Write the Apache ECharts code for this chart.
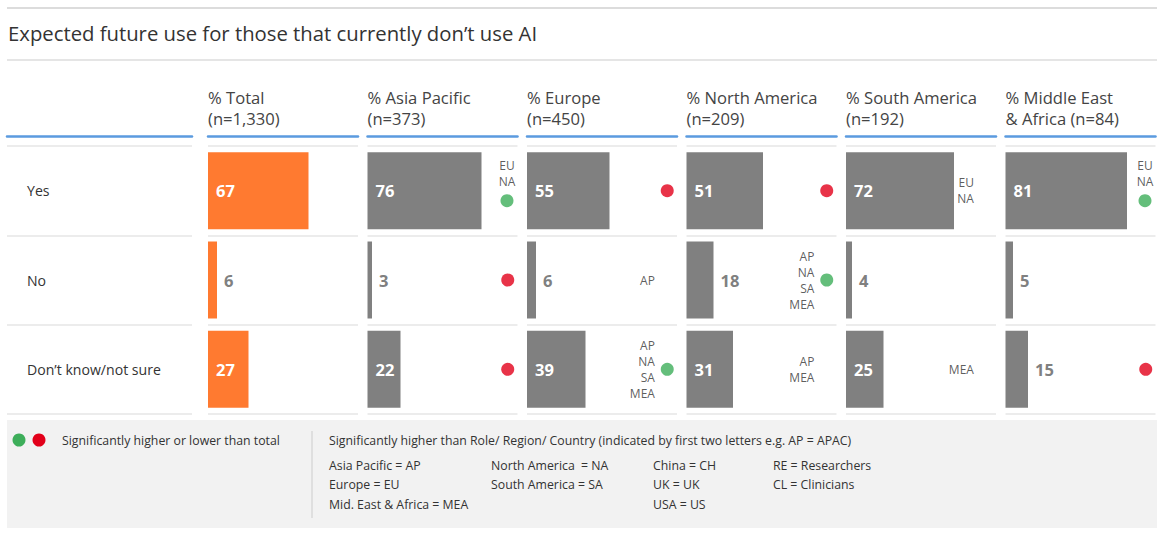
<!DOCTYPE html>
<html>
<head>
<meta charset="utf-8">
<script src="https://cdn.jsdelivr.net/npm/echarts@6/dist/echarts.min.js"></script>
<style>
html,body{margin:0;padding:0;background:#fff;}
#chart{width:1162px;height:534px;}
</style>
</head>
<body>
<div id="chart"></div>
<script>
// ---- data ----
const titleText = 'Expected future use for those that currently don\u2019t use AI';
const rowLabels = ['Yes', 'No', 'Don\u2019t know/not sure'];
const columnHeaders = ['% Total\n(n=1,330)', '% Asia Pacific\n(n=373)', '% Europe\n(n=450)', '% North America\n(n=209)', '% South America\n(n=192)', '% Middle East\n& Africa (n=84)'];
const totalValues = [67, 6, 27];
const asiaPacificValues = [76, 3, 22];
const europeValues = [55, 6, 39];
const northAmericaValues = [51, 18, 31];
const southAmericaValues = [72, 4, 25];
const middleEastAfricaValues = [81, 5, 15];
// significance vs total: 'higher' | 'lower' | ''
const totalSig = ['', '', ''];
const asiaPacificSig = ['higher', 'lower', 'lower'];
const europeSig = ['lower', '', 'higher'];
const northAmericaSig = ['lower', 'higher', ''];
const southAmericaSig = ['', '', ''];
const middleEastAfricaSig = ['higher', '', 'lower'];
// significantly higher than region codes
const totalCodes = [[], [], []];
const asiaPacificCodes = [['EU', 'NA'], [], []];
const europeCodes = [[], ['AP'], ['AP', 'NA', 'SA', 'MEA']];
const northAmericaCodes = [[], ['AP', 'NA', 'SA', 'MEA'], ['AP', 'MEA']];
const southAmericaCodes = [['EU', 'NA'], [], ['MEA']];
const middleEastAfricaCodes = [['EU', 'NA'], [], []];
// legend texts
const legendSigText = 'Significantly higher or lower than total';
const legendCodesHeader = 'Significantly higher than Role/ Region/ Country (indicated by first two letters e.g. AP = APAC)';
const legendCodeColumns = [
  ['Asia Pacific = AP', 'Europe = EU', 'Mid. East & Africa = MEA'],
  ['North America  = NA', 'South America = SA'],
  ['China = CH', 'UK = UK', 'USA = US'],
  ['RE = Researchers', 'CL = Clinicians']
];

// ---- layout / style ----
const FONT = '"Open Sans", "Noto Sans", sans-serif';
const ORANGE = '#ff7a30';
const GREY = '#808080';
const GREEN = '#3dae5a';
const RED = '#e2001a';
const BLUE = '#5b9bdf';
const SEP = '#e6e6e6';
const colLefts = [208, 367.5, 527, 686.5, 846, 1005.5];
const colWidth = 150;
const gridTop = 146, gridHeight = 268;
const DOT_X = 93.5, CODE_X = 85.3;

const valueCols = [totalValues, asiaPacificValues, europeValues, northAmericaValues, southAmericaValues, middleEastAfricaValues];
const sigCols = [totalSig, asiaPacificSig, europeSig, northAmericaSig, southAmericaSig, middleEastAfricaSig];
const codeCols = [totalCodes, asiaPacificCodes, europeCodes, northAmericaCodes, southAmericaCodes, middleEastAfricaCodes];

const grid = [{left: 7, width: 185, top: gridTop, height: gridHeight}];
const xAxis = [{gridIndex: 0, type: 'value', min: 0, max: 100, position: 'top', offset: 10,
  axisLine: {show: true, lineStyle: {color: BLUE, width: 2.5}}, axisTick: {show: false}, axisLabel: {show: false}, splitLine: {show: false}}];
const yAxis = [{gridIndex: 0, type: 'category', data: rowLabels, inverse: true,
  axisLine: {show: false}, axisTick: {show: false},
  axisLabel: {inside: true, margin: 20, align: 'left', color: '#333', fontSize: 14.1, fontFamily: FONT},
  splitLine: {show: true, lineStyle: {color: SEP, width: 1.5}}}];
const series = [];
const title = [{text: titleText, left: 8, top: 23, padding: 0,
  textStyle: {fontSize: 20.3, fontWeight: 'normal', color: '#333', fontFamily: FONT}}];

valueCols.forEach((vals, i) => {
  const g = i + 1;
  grid.push({left: colLefts[i], width: colWidth, top: gridTop, height: gridHeight});
  xAxis.push({gridIndex: g, type: 'value', min: 0, max: 100, position: 'top', offset: 10,
    axisLine: {show: true, lineStyle: {color: BLUE, width: 2.5}}, axisTick: {show: false}, axisLabel: {show: false}, splitLine: {show: false}});
  yAxis.push({gridIndex: g, type: 'category', data: rowLabels, inverse: true,
    axisLine: {show: false}, axisTick: {show: false}, axisLabel: {show: false},
    splitLine: {show: true, lineStyle: {color: SEP, width: 1.5}}});
  title.push({text: columnHeaders[i], left: colLefts[i], top: 87, padding: 0,
    textStyle: {fontSize: 16.6, fontWeight: 'normal', color: '#444', lineHeight: 21, fontFamily: FONT}});
  const color = i === 0 ? ORANGE : GREY;
  series.push({
    type: 'bar', xAxisIndex: g, yAxisIndex: g, barWidth: 77, silent: true,
    data: vals.map(v => ({
      value: v,
      label: v >= 20
        ? {show: true, position: 'insideLeft', distance: 8, color: '#fff'}
        : {show: true, position: 'right', distance: 7, color: GREY}
    })),
    itemStyle: {color: color},
    label: {fontSize: 16.5, fontWeight: 'bold', fontFamily: FONT}
  });
  // dots
  const dots = [];
  sigCols[i].forEach((s, r) => {
    if (!s) return;
    const stacked = codeCols[i][r].length > 0 && r === 0;
    dots.push({value: [DOT_X - (stacked ? 0.5 : 0), r], symbolOffset: [0, stacked ? 10 : 0],
      itemStyle: {color: s === 'higher' ? GREEN : RED}});
  });
  series.push({type: 'scatter', xAxisIndex: g, yAxisIndex: g, symbolSize: 13, silent: true, data: dots, z: 5});
  // codes
  const codes = [];
  codeCols[i].forEach((c, r) => {
    if (!c.length) return;
    const stacked = sigCols[i][r] && r === 0;
    codes.push({value: [stacked ? DOT_X - 0.5 : CODE_X, r],
      label: stacked
        ? {position: 'inside', offset: [0, -17], align: 'center'}
        : {position: 'left', distance: 0},
      name: c.join('\n')});
  });
  series.push({type: 'scatter', xAxisIndex: g, yAxisIndex: g, symbolSize: 0.1, silent: true, data: codes, z: 6,
    itemStyle: {color: 'rgba(0,0,0,0)'},
    label: {show: true, formatter: p => p.name, fontSize: 12, lineHeight: 16, color: '#333', fontFamily: FONT}});
});

// legend box graphics
const legendY = 440;
const LFONT = '12.3px ' + FONT;
const graphic = [
  {type: 'line', shape: {x1: 7, y1: 8, x2: 1157, y2: 8}, style: {stroke: '#dcdcdc', lineWidth: 2}},
  {type: 'line', shape: {x1: 7, y1: 60, x2: 1157, y2: 60}, style: {stroke: '#dcdcdc', lineWidth: 1.5}},
  {type: 'rect', shape: {x: 7, y: 420, width: 1150, height: 108}, style: {fill: '#f2f2f2'}, z: -1},
  {type: 'circle', shape: {cx: 19, cy: legendY, r: 6.5}, style: {fill: GREEN}},
  {type: 'circle', shape: {cx: 39, cy: legendY, r: 6.5}, style: {fill: RED}},
  {type: 'text', x: 62, y: legendY, style: {text: legendSigText, fill: '#333', font: LFONT, textVerticalAlign: 'middle'}},
  {type: 'line', shape: {x1: 312, y1: 431, x2: 312, y2: 518}, style: {stroke: '#cccccc', lineWidth: 1}},
  {type: 'text', x: 329, y: legendY, style: {text: legendCodesHeader, fill: '#333', font: LFONT, textVerticalAlign: 'middle'}}
];
const legendColX = [329, 491, 653, 773];
legendCodeColumns.forEach((col, ci) => {
  col.forEach((t, ri) => {
    graphic.push({type: 'text', x: legendColX[ci], y: 465 + ri * 19.5,
      style: {text: t, fill: '#333', font: LFONT, textVerticalAlign: 'middle'}});
  });
});

const chart = echarts.init(document.getElementById('chart'), null, {renderer: 'svg'});
chart.setOption({
  animation: false,
  backgroundColor: '#fff',
  title: title,
  grid: grid,
  xAxis: xAxis,
  yAxis: yAxis,
  series: series,
  graphic: graphic
});
</script>
</body>
</html>
